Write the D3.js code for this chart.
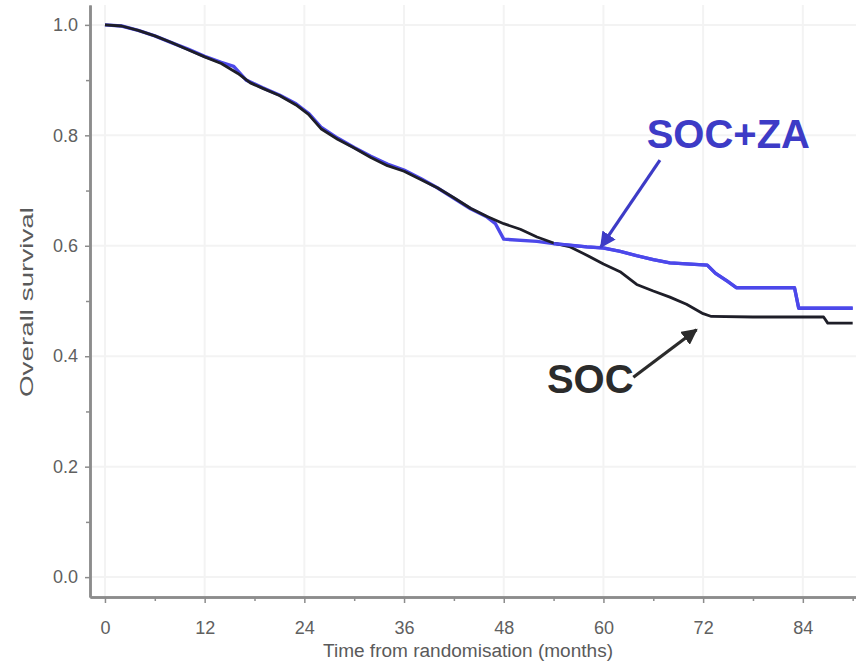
<!DOCTYPE html>
<html>
<head>
<meta charset="utf-8">
<script src="https://cdn.jsdelivr.net/npm/d3@7"></script>
<style>
  body { margin: 0; background: #fff; }
  svg { display: block; font-family: Arial, "Liberation Sans", sans-serif; }
</style>
</head>
<body>
<svg id="chart" width="856" height="663"></svg>
<script>
// Kaplan-Meier curves (months, survival)
const socMonths = [0, 2, 4, 6, 8, 10, 12, 14, 16, 17.5, 19, 21, 23, 24.5, 26, 28, 30, 32, 34, 36, 38, 40, 42, 44, 46, 48, 50, 52, 54, 56, 58, 60, 62, 64, 66, 68, 70, 72, 73, 78, 86.5, 87, 90];
const socSurv = [1.0, 0.998, 0.99, 0.98, 0.968, 0.955, 0.942, 0.93, 0.912, 0.895, 0.885, 0.872, 0.855, 0.838, 0.812, 0.793, 0.777, 0.76, 0.745, 0.735, 0.72, 0.705, 0.687, 0.668, 0.653, 0.64, 0.63, 0.616, 0.605, 0.598, 0.583, 0.567, 0.553, 0.53, 0.518, 0.507, 0.494, 0.477, 0.472, 0.471, 0.471, 0.46, 0.46];

const zaMonths = [0, 2, 4, 6, 8, 10, 12, 14, 15.5, 17, 19, 21, 23, 24.5, 26, 28, 30, 32, 34, 36, 38, 40, 42, 44, 46, 47, 48, 52, 54, 56, 58, 60, 62, 64, 66, 68, 72.5, 73.5, 75, 76, 83, 83.5, 90];
const zaSurv = [1.0, 0.998, 0.99, 0.98, 0.968, 0.956, 0.943, 0.932, 0.925, 0.9, 0.886, 0.873, 0.857, 0.84, 0.815, 0.795, 0.778, 0.762, 0.748, 0.737, 0.722, 0.705, 0.686, 0.667, 0.652, 0.64, 0.612, 0.608, 0.604, 0.601, 0.598, 0.596, 0.59, 0.582, 0.575, 0.569, 0.565, 0.55, 0.535, 0.524, 0.524, 0.487, 0.487];

const xMajor = [0, 12, 24, 36, 48, 60, 72, 84];
const xMinor = [6, 18, 30, 42, 54, 66, 78, 90];
const yMajor = [0, 0.2, 0.4, 0.6, 0.8, 1.0];
const yMinor = [0.1, 0.3, 0.5, 0.7, 0.9];

const xTitle = "Time from randomisation (months)";
const yTitle = "Overall survival";

// annotation labels, anchored in data space
const labels = [
  { text: "SOC+ZA", m: 65.2, v: 0.777, color: "#3d3bc6", from: [66.8, 0.755], to: [59.7, 0.598] },
  { text: "SOC", m: 53.2, v: 0.333, color: "#2b2b2b", from: [63.6, 0.362], to: [71.2, 0.448] }
];

const svg = d3.select("#chart");

const x = d3.scaleLinear().domain([-1.8, 90.4]).range([90, 856]);
const y = d3.scaleLinear().domain([-0.036, 1.036]).range([597, 5]);

// faint grid
svg.append("g")
  .selectAll("line")
  .data(xMajor)
  .enter().append("line")
  .attr("x1", d => x(d)).attr("x2", d => x(d))
  .attr("y1", y.range()[1]).attr("y2", y.range()[0])
  .style("stroke", "#f3f3f3").style("stroke-width", 2);
svg.append("g")
  .selectAll("line")
  .data(yMajor)
  .enter().append("line")
  .attr("x1", x.range()[0]).attr("x2", x.range()[1])
  .attr("y1", d => y(d)).attr("y2", d => y(d))
  .style("stroke", "#f3f3f3").style("stroke-width", 2);

// axes
function styleAxis(g) {
  g.select(".domain").style("stroke", "#8c8c8c").style("stroke-width", 2.5);
  g.selectAll(".tick line").style("stroke", "#8c8c8c").style("stroke-width", 1.5);
  g.selectAll(".tick text").style("fill", "#606060").style("font-size", "18px");
}

svg.append("g")
  .attr("transform", "translate(0,597)")
  .call(d3.axisBottom(x).tickValues(xMinor).tickSize(4).tickSizeOuter(0).tickFormat(""))
  .call(styleAxis);
svg.append("g")
  .attr("transform", "translate(0,597)")
  .call(d3.axisBottom(x).tickValues(xMajor).tickSize(6).tickPadding(18).tickSizeOuter(0).tickFormat(d3.format("d")))
  .call(styleAxis);

svg.append("g")
  .attr("transform", "translate(90,0)")
  .call(d3.axisLeft(y).tickValues(yMinor).tickSize(4).tickSizeOuter(0).tickFormat(""))
  .call(styleAxis);
svg.append("g")
  .attr("transform", "translate(90,0)")
  .call(d3.axisLeft(y).tickValues(yMajor).tickSize(5).tickPadding(7).tickSizeOuter(0).tickFormat(d3.format(".1f")))
  .call(styleAxis);

// titles
svg.append("text")
  .attr("x", 468).attr("y", 657)
  .attr("text-anchor", "middle")
  .attr("textLength", 290).attr("lengthAdjust", "spacingAndGlyphs")
  .style("font-size", "18px").style("fill", "#5a5a5a")
  .text(xTitle);

svg.append("text")
  .attr("transform", "translate(33,302) rotate(-90)")
  .attr("text-anchor", "middle")
  .attr("textLength", 190).attr("lengthAdjust", "spacingAndGlyphs")
  .style("font-size", "19px").style("fill", "#5a5a5a")
  .text(yTitle);

// curves
const line = d3.line()
  .x(d => x(d[0]))
  .y(d => y(d[1]))
  .curve(d3.curveLinear);

svg.append("path")
  .datum(d3.zip(zaMonths, zaSurv))
  .attr("d", line)
  .style("fill", "none").style("stroke", "#4c48ea").style("stroke-width", 3.4)
  .style("stroke-linejoin", "round");

svg.append("path")
  .datum(d3.zip(socMonths, socSurv))
  .attr("d", line)
  .style("fill", "none").style("stroke", "#1e1e28").style("stroke-width", 2.8)
  .style("stroke-linejoin", "round");

// redraw the part where the blue curve sits above the black one
svg.append("path")
  .datum(d3.zip(zaMonths, zaSurv).filter(d => d[0] >= 54))
  .attr("d", line)
  .style("fill", "none").style("stroke", "#4c48ea").style("stroke-width", 3.2)
  .style("stroke-linejoin", "round");

// annotations
const defs = svg.append("defs");
labels.forEach((l, i) => {
  defs.append("marker")
    .attr("id", "head" + i)
    .attr("viewBox", "0 0 10 10")
    .attr("refX", 9).attr("refY", 5)
    .attr("markerWidth", 5).attr("markerHeight", 5)
    .attr("markerUnits", "strokeWidth")
    .attr("orient", "auto")
    .append("path")
    .attr("d", "M0,0 L10,5 L0,10 Z")
    .style("fill", l.color);

  svg.append("line")
    .attr("x1", x(l.from[0])).attr("y1", y(l.from[1]))
    .attr("x2", x(l.to[0])).attr("y2", y(l.to[1]))
    .style("stroke", l.color).style("stroke-width", 3.2)
    .attr("marker-end", `url(#head${i})`);

  svg.append("text")
    .attr("x", x(l.m)).attr("y", y(l.v))
    .style("font-size", "40px").style("font-weight", "bold")
    .style("fill", l.color)
    .text(l.text);
});
</script>
</body>
</html>
